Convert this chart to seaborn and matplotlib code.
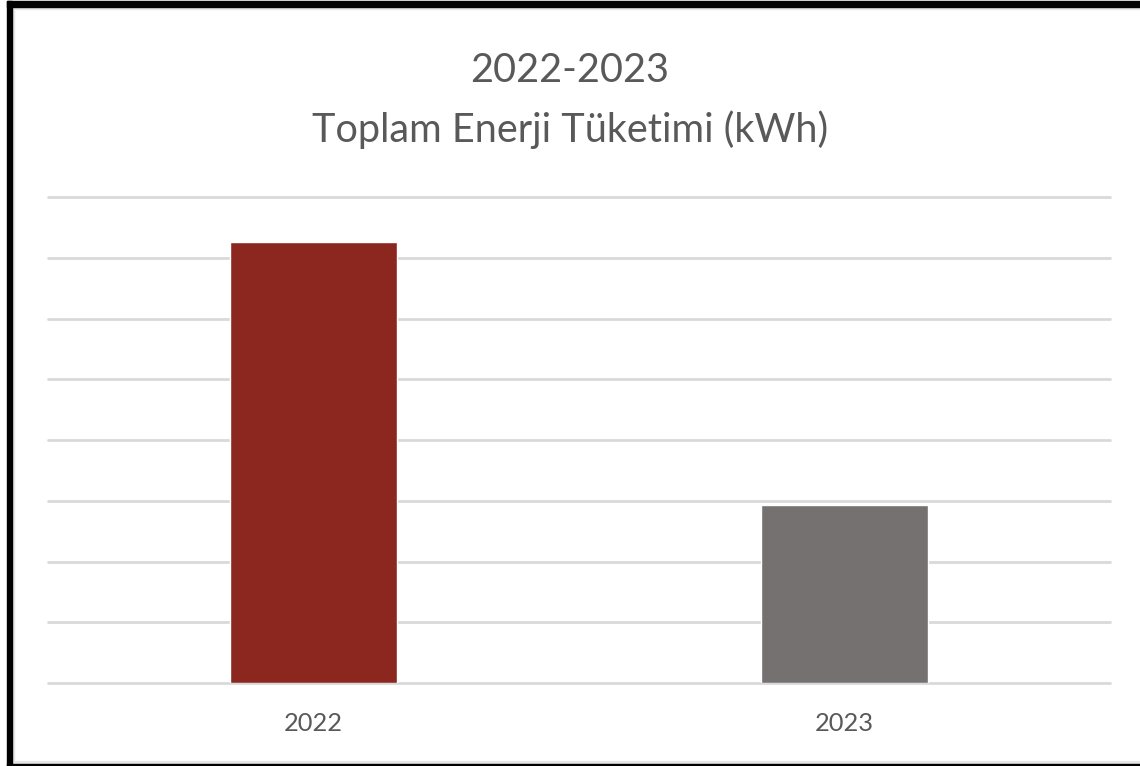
import pandas as pd
import seaborn as sns
import matplotlib.pyplot as plt
from matplotlib.patches import Rectangle

# data (grid units, 8 = top gridline)
years = ["2022", "2023"]
energy = [7.26, 2.93]
bar_colors = ["#8B271F", "#767171"]

df = pd.DataFrame({"Yil": years, "Enerji": energy})

sns.set_theme(style="white")
plt.rcParams['font.family'] = ['Lato', 'DejaVu Sans']

W, H = 1140, 766
fig = plt.figure(figsize=(W / 100, H / 100), dpi=100)
ax = fig.add_axes([48 / W, 1 - 683 / H, (1110 - 48) / W, (683 - 197) / H])

sns.barplot(data=df, x="Yil", y="Enerji", hue="Yil", palette=bar_colors,
            width=0.313, legend=False, ax=ax, saturation=1)

ax.set_xlim(-0.5, 1.5)
ax.set_ylim(0, 8)
ax.set_yticks(range(0, 9))
ax.yaxis.grid(True, color="#d9d9d9", linewidth=2)
for gl in ax.get_ygridlines():
    gl.set_clip_on(False)
ax.set_axisbelow(True)
ax.set_yticklabels([])
ax.tick_params(axis="y", length=0)
ax.tick_params(axis="x", length=0, labelsize=18.3, labelcolor="#595959", pad=21)
ax.set_xlabel("")
ax.set_ylabel("")
for s in ax.spines.values():
    s.set_visible(False)

fig.text(0.5, 1 - 70 / H, "2022-2023", ha="center", va="center",
         fontsize=28.5, color="#595959")
fig.text(0.5, 1 - 130 / H, "Toplam Enerji Tüketimi (kWh)", ha="center",
         va="center", fontsize=28.5, color="#595959")

# screenshot frame
def px_rect(x0, y0, x1, y1, color):
    fig.patches.append(Rectangle((x0 / W, 1 - y1 / H), (x1 - x0) / W, (y1 - y0) / H,
                                 transform=fig.transFigure, color=color, zorder=10))

px_rect(12, 7, 14, 764, "#e6e6e6")
px_rect(12, 7, W, 9, "#e6e6e6")
px_rect(12, 761, W, 764, "#e6e6e6")
px_rect(7, 1, 12, H, "black")
px_rect(7, 1, W, 7, "black")
px_rect(7, 764, W, H, "black")

fig.savefig("out.png", dpi=100)
